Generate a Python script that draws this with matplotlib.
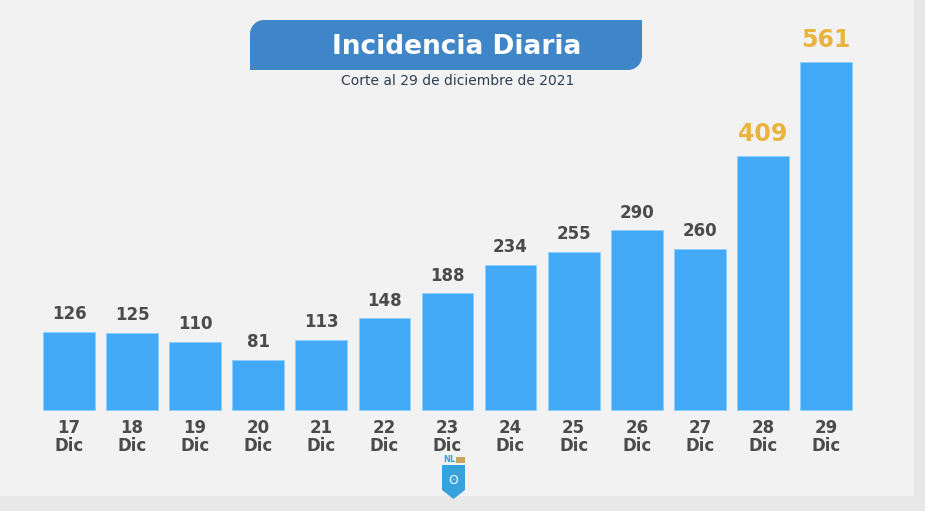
import numpy as np
import matplotlib.pyplot as plt
from matplotlib.patches import Rectangle, Polygon

plt.rcParams['font.family'] = ['DejaVu Sans']

# datos
dias = ['17', '18', '19', '20', '21', '22', '23', '24', '25', '26', '27', '28', '29']
casos = [126, 125, 110, 81, 113, 148, 188, 234, 255, 290, 260, 409, 561]
destacados = [False] * 11 + [True, True]

W, H = 925, 511
fig = plt.figure(figsize=(W / 100, H / 100), dpi=100)
fig.patch.set_facecolor('#f2f2f2')

# ejes de las barras ocupando toda la figura
ax = fig.add_axes([0, 0, 1, 1])
ax.set_facecolor('none')
paso = 63.08
x0 = 69
ax.set_xlim(-x0 / paso, (W - x0) / paso)
esc = 0.62  # px por caso
base = H - 410
ax.set_ylim(-base / esc, (H - base) / esc)
ax.axis('off')

x = np.arange(len(dias))
ax.bar(x, casos, width=0.82, color='#42a9f6', edgecolor='#8fd0fb', linewidth=0.6)

for xi, v, d in zip(x, casos, destacados):
    if d:
        ax.text(xi, v + 17, str(v), ha='center', va='bottom', fontsize=17,
                fontweight='bold', color='#eab43c')
    else:
        ax.text(xi, v + 14, str(v), ha='center', va='bottom', fontsize=12,
                fontweight='bold', color='#4b4b4b')

for xi, d in zip(x, dias):
    ax.text(xi, -14, d + '\nDic', ha='center', va='top', fontsize=12,
            fontweight='bold', color='#4b4b4b', linespacing=1.05)

# capa en pixeles para decoraciones
deco = fig.add_axes([0, 0, 1, 1])
deco.set_xlim(0, W)
deco.set_ylim(H, 0)
deco.axis('off')
deco.set_zorder(-1)
deco.set_facecolor('none')

# franjas de los bordes
deco.add_patch(Rectangle((914, 0), 11, H, color='#e6e6e6', lw=0))
deco.add_patch(Rectangle((0, 496), W, 15, color='#e8e8e8', lw=0))

# recuadro del titulo (esquinas redondeadas arriba-izq y abajo-der)
x1, x2, y1, y2, r = 250, 642, 20, 70, 14
t = np.linspace(0, np.pi / 2, 12)
pts = [(x2, y1)]
pts += [(x2 - r + r * np.cos(a), y2 - r + r * np.sin(a)) for a in t]
pts += [(x1, y2)]
pts += [(x1 + r - r * np.cos(a), y1 + r - r * np.sin(a)) for a in t]
deco.add_patch(Polygon(pts, closed=True, color='#3f86c9', lw=0))

deco.text(457, 47, 'Incidencia Diaria', ha='center', va='center', fontsize=19,
          fontweight='bold', color='white')
deco.text(458, 81, 'Corte al 29 de diciembre de 2021', ha='center', va='center',
          fontsize=10, color='#2e3f52')

# logo
escudo = [(442, 465), (465, 465), (465, 490), (453.5, 499), (442, 490)]
deco.add_patch(Polygon(escudo, closed=True, color='#36a3dd', lw=0))
deco.text(449, 460, 'NL', ha='center', va='center', fontsize=6,
          fontweight='bold', color='#36a3dd')
deco.add_patch(Rectangle((456, 457), 9, 6, color='#c9a45c', lw=0))
deco.text(453.5, 481, 'ʘ', ha='center', va='center', fontsize=9, color='white')

fig.savefig('out.png', dpi=100, facecolor=fig.get_facecolor())
